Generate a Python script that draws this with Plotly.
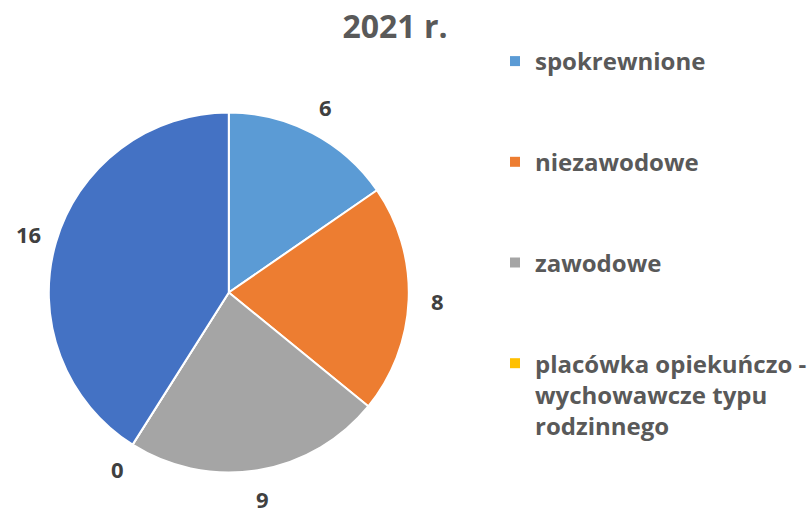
import math
import plotly.graph_objects as go

title_text = "2021 r."
categories = ["spokrewnione", "niezawodowe", "zawodowe",
              "placówka opiekuńczo - wychowawcze typu rodzinnego", "inne"]
legend_names = ["spokrewnione", "niezawodowe", "zawodowe",
                "placówka opiekuńczo -<br>wychowawcze typu<br>rodzinnego"]
values = [6, 8, 9, 0, 16]
colors = ["#5B9BD5", "#ED7D31", "#A5A5A5", "#FFC000", "#4472C4"]

W, H = 808, 508
cx, cy, r = 228.8, 292.5, 180
label_r = 209

fig = go.Figure()
fig.add_trace(go.Pie(
    labels=categories,
    values=values,
    sort=False,
    direction="clockwise",
    rotation=0,
    marker=dict(colors=colors, line=dict(color="white", width=2)),
    textposition="none",
    showlegend=False,
    hoverinfo="label+value",
    domain=dict(x=[(cx - r) / W, (cx + r) / W], y=[1 - (cy + r) / H, 1 - (cy - r) / H]),
))

# data labels placed at the mid-angle of each slice, outside the pie
total = sum(values)
cum = 0
for v in values:
    ang = (cum + v / 2) / total * 2 * math.pi
    cum += v
    px = cx + label_r * math.sin(ang)
    py = cy - label_r * math.cos(ang)
    fig.add_annotation(
        x=px / W, y=1 - py / H, xref="paper", yref="paper",
        text=str(v), showarrow=False, xanchor="center", yanchor="middle",
        font=dict(family="Open Sans", size=22, color="#404040", weight="bold"),
    )

for i, nm in enumerate(legend_names):
    fig.add_trace(go.Scatter(
        x=[None], y=[None], mode="markers", name=nm,
        legendgroup=str(i),
        marker=dict(symbol="square", size=10, color=colors[i]),
    ))

fig.update_layout(
    width=W, height=H,
    margin=dict(l=0, r=0, t=0, b=0, autoexpand=False),
    paper_bgcolor="white", plot_bgcolor="white",
    title=dict(text=title_text, x=395 / W, xanchor="center", y=1 - 27 / H, yanchor="middle",
               font=dict(family="Open Sans", size=32, color="#595959", weight="bold")),
    xaxis=dict(visible=False), yaxis=dict(visible=False),
    legend=dict(
        x=495 / W, xanchor="left", y=1 - 39 / H, yanchor="top",
        font=dict(family="Open Sans", size=24, color="#595959", weight="bold"),
        tracegroupgap=66.5, valign="top", itemclick=False,
    ),
)

fig.write_html(
    "out.html",
    config={"displayModeBar": False},
    post_script="document.body.style.margin='0';document.body.style.overflow='hidden';",
)
